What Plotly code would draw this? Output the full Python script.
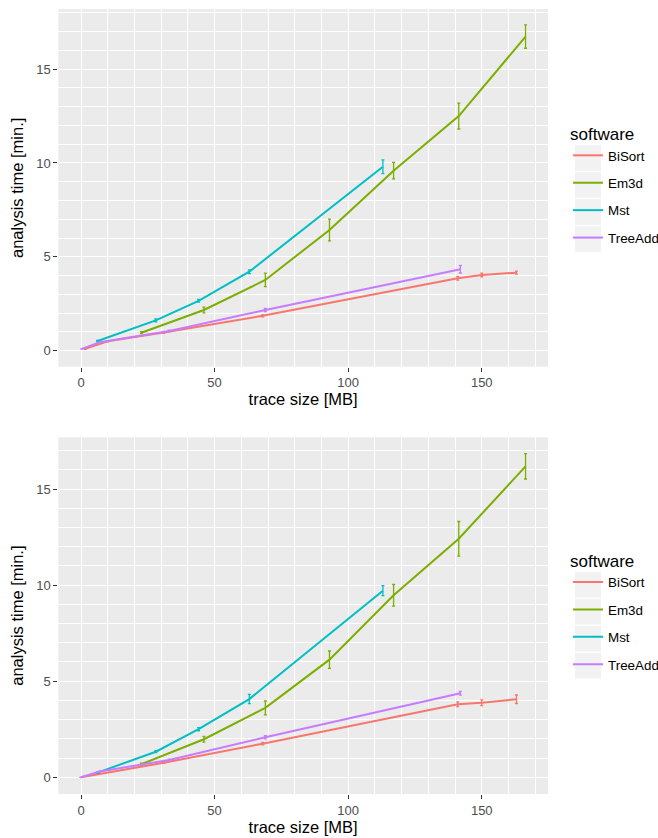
import plotly.graph_objects as go

W, H = 658, 838

software = ["BiSort", "Em3d", "Mst", "TreeAdd"]
colors = ["#F8766D", "#7CAE00", "#00BFC4", "#C77CFF"]

# ---- top panel data ----
top_bisort_x = [1.5, 10, 31, 68, 141, 150, 163]
top_bisort_y = [0.1, 0.5, 0.97, 1.86, 3.86, 4.03, 4.16]
top_bisort_e = [0.02, 0.03, 0.04, 0.06, 0.1, 0.1, 0.08]

top_em3d_x = [22.6, 46, 69, 93, 117, 141.4, 166.4]
top_em3d_y = [0.96, 2.17, 3.77, 6.43, 9.59, 12.5, 16.73]
top_em3d_e = [0.05, 0.15, 0.36, 0.58, 0.44, 0.69, 0.62]

top_mst_x = [6.2, 28, 44, 63, 113]
top_mst_y = [0.52, 1.62, 2.66, 4.21, 9.8]
top_mst_e = [0.03, 0.08, 0.07, 0.1, 0.37]

top_tree_x = [0.3, 7, 33, 69, 142]
top_tree_y = [0.1, 0.45, 1.05, 2.17, 4.34]
top_tree_e = [0.01, 0.02, 0.04, 0.08, 0.2]

# ---- bottom panel data ----
bot_bisort_x = [0, 31, 68, 141, 150, 163]
bot_bisort_y = [0.0, 0.76, 1.75, 3.8, 3.88, 4.06]
bot_bisort_e = [0.0, 0.04, 0.06, 0.12, 0.15, 0.22]

bot_em3d_x = [22.6, 46, 69, 93, 117, 141.4, 166.4]
bot_em3d_y = [0.68, 1.98, 3.61, 6.12, 9.47, 12.41, 16.18]
bot_em3d_e = [0.05, 0.15, 0.36, 0.45, 0.56, 0.9, 0.66]

bot_mst_x = [6.2, 28, 44, 63, 113]
bot_mst_y = [0.24, 1.33, 2.5, 4.07, 9.71]
bot_mst_e = [0.03, 0.05, 0.08, 0.24, 0.26]

bot_tree_x = [0, 7, 33, 69, 142]
bot_tree_y = [0.0, 0.3, 0.9, 2.08, 4.37]
bot_tree_e = [0.0, 0.02, 0.04, 0.08, 0.1]

x_ticks = [0, 50, 100, 150]
y_ticks = [0, 5, 10, 15]

top_series = [(top_bisort_x, top_bisort_y, top_bisort_e),
              (top_em3d_x, top_em3d_y, top_em3d_e),
              (top_mst_x, top_mst_y, top_mst_e),
              (top_tree_x, top_tree_y, top_tree_e)]
bot_series = [(bot_bisort_x, bot_bisort_y, bot_bisort_e),
              (bot_em3d_x, bot_em3d_y, bot_em3d_e),
              (bot_mst_x, bot_mst_y, bot_mst_e),
              (bot_tree_x, bot_tree_y, bot_tree_e)]

FONT = "Liberation Sans, Arial, sans-serif"

fig = go.Figure()

for panel, series, xa, ya, leg in [("top", top_series, "x", "y", "legend"),
                                  ("bot", bot_series, "x2", "y2", "legend2")]:
    for name, col, (xs, ys, es) in zip(software, colors, series):
        fig.add_trace(go.Scatter(
            x=xs, y=ys, mode="lines", name=name,
            line=dict(color=col, width=2),
            error_y=dict(type="data", array=es, visible=True,
                         color=col, thickness=1.3, width=1.5),
            xaxis=xa, yaxis=ya, legend=leg,
            legendgroup=panel + name,
        ))

def px_x(p):
    return p / W

def px_y(p):
    return 1 - p / H

axis_common = dict(
    showgrid=True, gridcolor="white", gridwidth=1.1,
    minor=dict(showgrid=True, gridcolor="white", gridwidth=0.5, ticklen=0),
    zeroline=False, showline=False,
    ticks="outside", ticklen=4, tickwidth=1, tickcolor="#333333",
    tickfont=dict(family=FONT, size=13, color="#4D4D4D"),
    automargin=False,
)

legend_common = dict(
    xanchor="left", yanchor="top",
    bgcolor="rgba(0,0,0,0)", tracegroupgap=7,
    title=dict(text="software", font=dict(size=17, family=FONT)),
    font=dict(size=13.4, family=FONT),
)

fig.update_layout(
    width=W, height=H,
    margin=dict(l=0, r=0, t=0, b=0, autoexpand=False),
    paper_bgcolor="white",
    plot_bgcolor="#EBEBEB",
    font=dict(family=FONT, color="black"),
    xaxis=dict(axis_common, domain=[px_x(58.3), px_x(548)], range=[-8.5, 174.8],
               tickvals=x_ticks, anchor="y",
               title=dict(text="trace size [MB]", font=dict(size=16.5, family=FONT), standoff=4)),
    yaxis=dict(axis_common, domain=[px_y(366.7), px_y(9)], range=[-0.85, 18.2],
               tickvals=y_ticks, anchor="x",
               title=dict(text="analysis time [min.]", font=dict(size=16.5, family=FONT), standoff=8)),
    xaxis2=dict(axis_common, domain=[px_x(58.3), px_x(548)], range=[-8.5, 174.8],
                tickvals=x_ticks, anchor="y2",
                title=dict(text="trace size [MB]", font=dict(size=16.5, family=FONT), standoff=4)),
    yaxis2=dict(axis_common, domain=[px_y(794), px_y(437.3)], range=[-0.87, 17.69],
                tickvals=y_ticks, anchor="x2",
                title=dict(text="analysis time [min.]", font=dict(size=16.5, family=FONT), standoff=8)),
    legend=dict(legend_common, x=px_x(568), y=px_y(118)),
    legend2=dict(legend_common, x=px_x(568), y=px_y(544.7)),
    showlegend=True,
)

# grey legend key backgrounds
shapes = []
for base in [158.0, 584.7]:
    for i in range(4):
        c = base + 27 * i
        shapes.append(dict(type="rect", xref="paper", yref="paper",
                           x0=px_x(575), x1=px_x(601), y0=px_y(c + 12.8), y1=px_y(c - 12.8),
                           fillcolor="#F2F2F2", line=dict(width=0), layer="below"))
fig.update_layout(shapes=shapes)

# remove the page's default body margin so the 658x838 figure fills the window exactly
fig.write_html("out.html",
               config={"displayModeBar": False},
               post_script="document.body.style.margin='0';"
                           "document.documentElement.style.overflow='hidden';")
